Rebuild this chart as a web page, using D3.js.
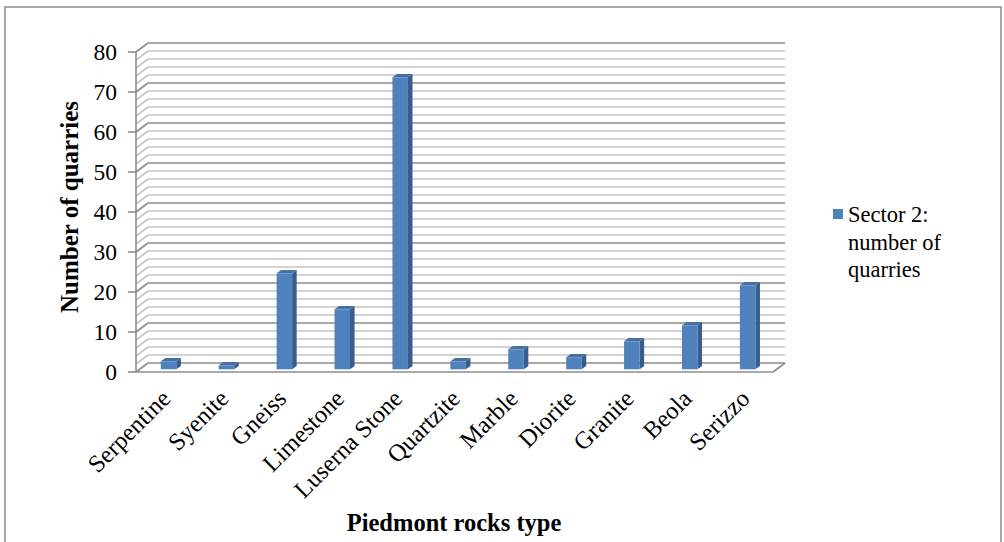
<!DOCTYPE html>
<html>
<head>
<meta charset="utf-8">
<script src="https://cdn.jsdelivr.net/npm/d3@7"></script>
<style>
  html, body { margin: 0; padding: 0; background: #fff; }
  svg { display: block; }
  text { font-family: "Liberation Serif", "Times New Roman", serif; fill: #000; }
</style>
</head>
<body>
<svg id="chart" width="1004" height="542"></svg>
<script>
// Quarry counts per rock type, Piedmont sector 2
const categories = ["Serpentine", "Syenite", "Gneiss", "Limestone", "Luserna Stone",
  "Quartzite", "Marble", "Diorite", "Granite", "Beola", "Serizzo"];
const quarries = [2, 1, 24, 15, 73, 2, 5, 3, 7, 11, 21];
const yTicks = [0, 10, 20, 30, 40, 50, 60, 70, 80];
const seriesName = ["Sector 2:", "number of", "quarries"];
const xTitle = "Piedmont rocks type";
const yTitle = "Number of quarries";

const svg = d3.select("#chart");

// outer frame
svg.append("rect")
  .attr("x", 5).attr("y", 7).attr("width", 996).attr("height", 545)
  .attr("fill", "none").attr("stroke", "#8a8a8a").attr("stroke-width", 1.5);

// plot geometry (front plane) and 3-D depth offset
const plotL = 136, plotR = 773, plotT = 52, plotB = 372;
const DX = 12, DY = -9;

const x = d3.scaleBand().domain(categories).range([plotL, plotR]);
const y = d3.scaleLinear().domain([0, 80]).range([plotB, plotT]);

const grid = svg.append("g");
const gridVals = d3.range(0, 81, 2);
gridVals.forEach(v => {
  const major = v % 10 === 0;
  const col = major ? "#8c8c8c" : "#c4c4c4";
  // back wall
  grid.append("line")
    .attr("x1", plotL + DX).attr("x2", plotR + DX)
    .attr("y1", y(v) + DY).attr("y2", y(v) + DY)
    .attr("stroke", col).attr("stroke-width", 1.6);
  // side wall
  grid.append("line")
    .attr("x1", plotL).attr("x2", plotL + DX)
    .attr("y1", y(v)).attr("y2", y(v) + DY)
    .attr("stroke", col).attr("stroke-width", 1.6);
});

// floor edges
grid.append("line")
  .attr("x1", plotL).attr("x2", plotR).attr("y1", y(0)).attr("y2", y(0))
  .attr("stroke", "#8c8c8c").attr("stroke-width", 1.6);
grid.append("line")
  .attr("x1", plotR).attr("x2", plotR + DX).attr("y1", y(0)).attr("y2", y(0) + DY)
  .attr("stroke", "#8c8c8c").attr("stroke-width", 1.6);

// vertical axis with tick marks
const axisG = svg.append("g");
axisG.append("line")
  .attr("x1", plotL).attr("x2", plotL).attr("y1", y(80)).attr("y2", y(0))
  .attr("stroke", "#8c8c8c").attr("stroke-width", 1.6);
axisG.selectAll("line.tick").data(yTicks).join("line")
  .attr("class", "tick")
  .attr("x1", plotL - 8).attr("x2", plotL)
  .attr("y1", d => y(d)).attr("y2", d => y(d))
  .attr("stroke", "#8c8c8c").attr("stroke-width", 1.6);
axisG.selectAll("text").data(yTicks).join("text")
  .attr("x", plotL - 19).attr("y", d => y(d))
  .attr("dy", "0.35em")
  .attr("text-anchor", "end")
  .style("font-size", "23.5px")
  .text(d => d);

// bars (sitting mid-depth, with side and top faces)
const bw = 15.5;
const bf = 0.3;           // depth position of bar front face
const bd = 0.38;          // bar depth as fraction of floor depth
const barsG = svg.append("g");
categories.forEach((c, i) => {
  const v = quarries[i];
  const cx = x(c) + x.bandwidth() / 2 + DX * bf;
  const x0 = cx - bw / 2, x1 = cx + bw / 2;
  const yb = y(0) + DY * bf, yt = y(v) + DY * bf;
  const ox = DX * bd, oy = DY * bd;
  // side face
  barsG.append("path")
    .attr("d", `M${x1},${yt}L${x1 + ox},${yt + oy}L${x1 + ox},${yb + oy}L${x1},${yb}Z`)
    .attr("fill", "#385d8a");
  // top face
  barsG.append("path")
    .attr("d", `M${x0},${yt}L${x0 + ox},${yt + oy}L${x1 + ox},${yt + oy}L${x1},${yt}Z`)
    .attr("fill", "#4470a8");
  // front face
  barsG.append("rect")
    .attr("x", x0).attr("y", yt).attr("width", bw).attr("height", yb - yt)
    .attr("fill", "#4f81bd");
});

// category labels, rotated
svg.append("g").selectAll("text").data(categories).join("text")
  .attr("transform", d => `translate(${x(d) + x.bandwidth() / 2 + 7},${plotB + 28}) rotate(-45)`)
  .attr("text-anchor", "end")
  .style("font-size", "24.5px")
  .text(d => d);

// axis titles
svg.append("text")
  .attr("x", 454).attr("y", 531)
  .attr("text-anchor", "middle")
  .style("font-size", "24.5px").style("font-weight", "bold")
  .text(xTitle);
svg.append("text")
  .attr("transform", `translate(78,207) rotate(-90)`)
  .attr("text-anchor", "middle")
  .style("font-size", "25px").style("font-weight", "bold")
  .text(yTitle);

// legend
const lg = svg.append("g");
lg.append("rect")
  .attr("x", 833).attr("y", 209).attr("width", 10).attr("height", 10)
  .attr("fill", "#4f81bd");
lg.selectAll("text").data(seriesName).join("text")
  .attr("x", 848).attr("y", (d, i) => 222 + i * 27.5)
  .style("font-size", "22.5px")
  .text(d => d);
</script>
</body>
</html>
